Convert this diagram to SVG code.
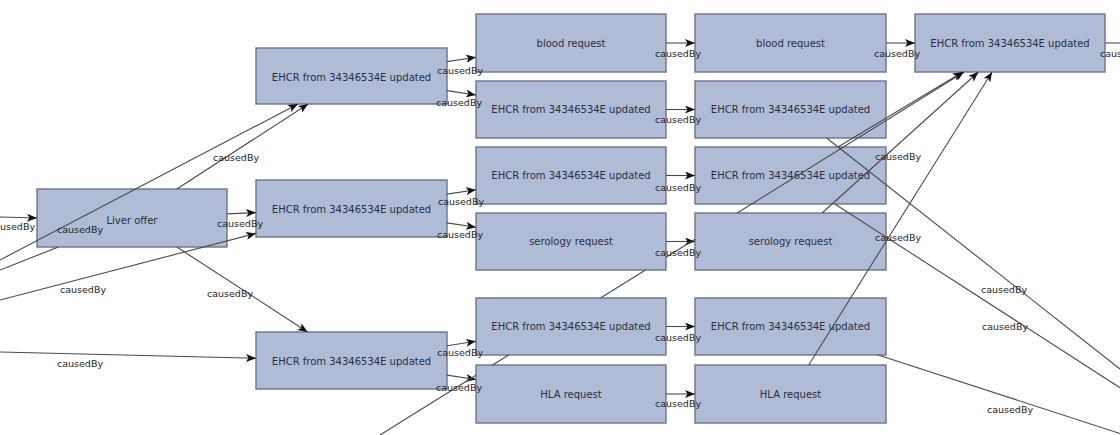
<svg xmlns="http://www.w3.org/2000/svg" width="1120" height="435" viewBox="0 0 1120 435">
  <style>
    .box { fill: #b0bcd6; stroke: #6e7486; stroke-width: 1.4; }
    .nt { font-family: "DejaVu Sans", "Liberation Sans", sans-serif; font-size: 10px; fill: #28303f; text-anchor: middle; dominant-baseline: central; }
    .edge { fill: none; stroke: #4a4a4a; stroke-width: 1.1; }
    .lbl { font-family: "DejaVu Sans", "Liberation Sans", sans-serif; font-size: 9.5px; fill: #1e1e1e; }
  </style>
  <defs>
    <marker id="arrow" markerUnits="userSpaceOnUse" markerWidth="10" markerHeight="8" refX="10" refY="4" orient="auto">
      <path d="M0,0 L10,4 L0,8 L2.5,4 Z" fill="#111"/>
    </marker>
  </defs>
  <rect width="1120" height="435" fill="#ffffff"/>

  <g id="nodes">
    <g id="liver-offer"><rect class="box" x="37" y="189" width="190" height="58"/><text class="nt" x="132" y="220">Liver offer</text></g>

    <g id="ehcr-a"><rect class="box" x="256" y="48" width="191" height="56"/><text class="nt" x="351.5" y="77">EHCR from 34346534E updated</text></g>
    <g id="ehcr-b"><rect class="box" x="256" y="180" width="191" height="57"/><text class="nt" x="351.5" y="209">EHCR from 34346534E updated</text></g>
    <g id="ehcr-c"><rect class="box" x="256" y="332" width="191" height="57"/><text class="nt" x="351.5" y="361">EHCR from 34346534E updated</text></g>

    <g id="blood-1"><rect class="box" x="476" y="14" width="190" height="58"/><text class="nt" x="571" y="43">blood request</text></g>
    <g id="ehcr-d"><rect class="box" x="476" y="81" width="190" height="57"/><text class="nt" x="571" y="109.5">EHCR from 34346534E updated</text></g>
    <g id="ehcr-e"><rect class="box" x="476" y="147" width="190" height="57"/><text class="nt" x="571" y="175.5">EHCR from 34346534E updated</text></g>
    <g id="serology-1"><rect class="box" x="476" y="213" width="190" height="57"/><text class="nt" x="571" y="241.5">serology request</text></g>
    <g id="ehcr-f"><rect class="box" x="476" y="298" width="190" height="57"/><text class="nt" x="571" y="326.5">EHCR from 34346534E updated</text></g>
    <g id="hla-1"><rect class="box" x="476" y="365" width="190" height="58"/><text class="nt" x="571" y="394">HLA request</text></g>

    <g id="blood-2"><rect class="box" x="695" y="14" width="191" height="58"/><text class="nt" x="790.5" y="43">blood request</text></g>
    <g id="ehcr-g"><rect class="box" x="695" y="81" width="191" height="57"/><text class="nt" x="790.5" y="109.5">EHCR from 34346534E updated</text></g>
    <g id="ehcr-h"><rect class="box" x="695" y="147" width="191" height="57"/><text class="nt" x="790.5" y="175.5">EHCR from 34346534E updated</text></g>
    <g id="serology-2"><rect class="box" x="695" y="213" width="191" height="57"/><text class="nt" x="790.5" y="241.5">serology request</text></g>
    <g id="ehcr-i"><rect class="box" x="695" y="298" width="191" height="57"/><text class="nt" x="790.5" y="326.5">EHCR from 34346534E updated</text></g>
    <g id="hla-2"><rect class="box" x="695" y="365" width="191" height="58"/><text class="nt" x="790.5" y="394">HLA request</text></g>

    <g id="ehcr-j"><rect class="box" x="915" y="14" width="190" height="58"/><text class="nt" x="1010" y="43">EHCR from 34346534E updated</text></g>
  </g>

  <g id="connectors">
    <!-- edges entering from the left margin -->
    <path class="edge" d="M0,217 L37,218" marker-end="url(#arrow)"/>
    <path class="edge" d="M0,260 L298,104" marker-end="url(#arrow)"/>
    <path class="edge" d="M0,270 L58.4,247"/>
    <path class="edge" d="M0,300 L256,233.4" marker-end="url(#arrow)"/>
    <path class="edge" d="M0,352 L256,358.2" marker-end="url(#arrow)"/>

    <!-- Liver offer fan-out -->
    <path class="edge" d="M176.8,189 L308.2,104" marker-end="url(#arrow)"/>
    <path class="edge" d="M227,213.9 L256,212.6" marker-end="url(#arrow)"/>
    <path class="edge" d="M176.8,247 L307.6,332" marker-end="url(#arrow)"/>

    <!-- second column to third column -->
    <path class="edge" d="M447,61.6 L476,57.2" marker-end="url(#arrow)"/>
    <path class="edge" d="M447,90.6 L476,95" marker-end="url(#arrow)"/>
    <path class="edge" d="M447,194.1 L476,189.7" marker-end="url(#arrow)"/>
    <path class="edge" d="M447,222.9 L476,227.3" marker-end="url(#arrow)"/>
    <path class="edge" d="M447,345.7 L476,341.2" marker-end="url(#arrow)"/>
    <path class="edge" d="M447,375.1 L476,379.5" marker-end="url(#arrow)"/>

    <!-- third column to fourth column -->
    <path class="edge" d="M666,43 L695,43" marker-end="url(#arrow)"/>
    <path class="edge" d="M666,109.5 L695,109.5" marker-end="url(#arrow)"/>
    <path class="edge" d="M666,175.5 L695,175.5" marker-end="url(#arrow)"/>
    <path class="edge" d="M666,241.5 L695,241.5" marker-end="url(#arrow)"/>
    <path class="edge" d="M666,326.5 L695,326.5" marker-end="url(#arrow)"/>
    <path class="edge" d="M666,394 L695,394" marker-end="url(#arrow)"/>

    <!-- into the top-right EHCR -->
    <path class="edge" d="M886,43 L915,43" marker-end="url(#arrow)"/>
    <path class="edge" d="M838,147 L962.7,72" marker-end="url(#arrow)"/>
    <path class="edge" d="M822.1,213 L978.4,72" marker-end="url(#arrow)"/>
    <path class="edge" d="M808.7,365 L992.1,72" marker-end="url(#arrow)"/>
    <!-- long edge from below, passing behind the third-column boxes -->
    <path class="edge" d="M380,435 L476,375.3 M492.6,365 L508.7,355 M600.5,298 L645.5,270 M666,257.3 L695,239.3 M737.2,213 L964.1,72" marker-end="url(#arrow)"/>

    <!-- leaving to the right -->
    <path class="edge" d="M1105,43 L1120,43"/>
    <path class="edge" d="M826.7,138 L1120,369"/>
    <path class="edge" d="M834.8,204 L1120,387.7"/>
    <path class="edge" d="M878.2,355 L1120,433.6"/>

    <!-- edge labels -->
    <text class="lbl" x="-11" y="229.5">causedBy</text>
    <text class="lbl" x="57" y="233">causedBy</text>
    <text class="lbl" x="213" y="160.5">causedBy</text>
    <text class="lbl" x="217" y="226.5">causedBy</text>
    <text class="lbl" x="60" y="292.5">causedBy</text>
    <text class="lbl" x="207" y="296.5">causedBy</text>
    <text class="lbl" x="57" y="366.5">causedBy</text>

    <text class="lbl" x="437" y="73.5">causedBy</text>
    <text class="lbl" x="436" y="105.5">causedBy</text>
    <text class="lbl" x="438" y="204.5">causedBy</text>
    <text class="lbl" x="437" y="237.5">causedBy</text>
    <text class="lbl" x="437" y="355.5">causedBy</text>
    <text class="lbl" x="436" y="390.5">causedBy</text>

    <text class="lbl" x="655" y="56.5">causedBy</text>
    <text class="lbl" x="655" y="122.5">causedBy</text>
    <text class="lbl" x="655" y="190.5">causedBy</text>
    <text class="lbl" x="655" y="255.5">causedBy</text>
    <text class="lbl" x="655" y="340.5">causedBy</text>
    <text class="lbl" x="655" y="406.5">causedBy</text>

    <text class="lbl" x="874" y="56.5">causedBy</text>
    <text class="lbl" x="1100" y="56.5">causedBy</text>
    <text class="lbl" x="875" y="159.5">causedBy</text>
    <text class="lbl" x="875" y="240.5">causedBy</text>
    <text class="lbl" x="981" y="292.5">causedBy</text>
    <text class="lbl" x="982" y="329.5">causedBy</text>
    <text class="lbl" x="987" y="412.5">causedBy</text>
  </g>
</svg>
